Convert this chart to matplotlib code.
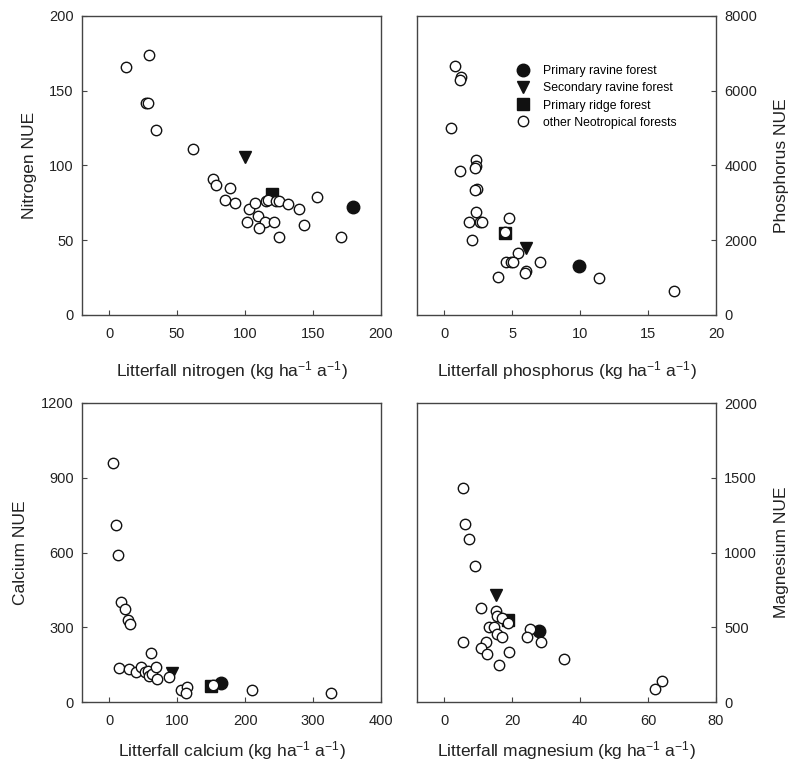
import matplotlib
matplotlib.use("Agg")
import matplotlib.pyplot as plt

plt.rcParams['font.family'] = ['Liberation Sans', 'DejaVu Sans']
plt.rcParams['mathtext.fontset'] = 'custom'
plt.rcParams['mathtext.rm'] = 'Liberation Sans'
plt.rcParams['mathtext.it'] = 'Liberation Sans:italic'

# site order: primary ravine, secondary ravine, primary ridge
site_labels = ['Primary ravine forest', 'Secondary ravine forest', 'Primary ridge forest']
site_markers = ['o', 'v', 's']
other_label = 'other Neotropical forests'

# nitrogen
n_other_x = [12.3, 29.4, 27.0, 28.5, 34.3, 62.0, 76.7, 78.4, 89.2, 85.5, 92.4, 102.9, 107.6, 115.2,
             116.9, 122.5, 125.0, 131.6, 139.7, 152.7, 109.6, 101.7, 114.7, 121.6, 110.3, 125.0,
             143.4, 170.8]
n_other_y = [166, 174, 142, 142, 124, 111, 91, 87, 85, 77, 75, 71, 75, 76,
             77, 76, 76, 74, 71, 79, 66, 62, 62, 62, 58, 52,
             60, 52]
n_site_x = [179.7, 99.8, 119.6]
n_site_y = [72, 106, 81]

# phosphorus
p_other_x = [0.81, 1.25, 1.15, 0.47, 1.13, 2.35, 2.35, 2.30, 2.40, 2.28, 2.35, 1.79, 2.65, 2.79,
             2.03, 4.75, 4.49, 5.42, 4.56, 4.93, 5.10, 7.06, 6.03, 5.98, 3.95, 11.37, 16.89]
p_other_y = [6670, 6360, 6280, 5000, 3850, 4160, 3980, 3940, 3380, 3340, 2760, 2500, 2500, 2500,
             2010, 2600, 2220, 1650, 1430, 1430, 1430, 1430, 1180, 1120, 1010, 1000, 630]
p_site_x = [9.95, 6.03, 4.49]
p_site_y = [1320, 1780, 2190]

# calcium
ca_other_x = [5.9, 10.3, 12.3, 17.2, 23.1, 27.9, 29.9, 61.8, 14.7, 29.4, 39.2, 46.1, 52.0,
              57.8, 59.3, 62.7, 68.6, 71.1, 87.3, 106.4, 114.2, 113.7, 153.4, 210.8, 326.0]
ca_other_y = [959, 712, 588, 400, 375, 328, 313, 195, 137, 131, 119, 140, 121,
              124, 105, 111, 141, 92, 101, 48, 61, 35, 68, 47, 35]
ca_site_x = [165.2, 93.1, 149.5]
ca_site_y = [77, 115, 65]

# magnesium
mg_other_x = [5.5, 6.1, 7.3, 9.2, 10.8, 15.2, 15.6, 17.1, 18.9, 13.1, 14.8, 15.5, 16.9,
              5.5, 12.4, 10.9, 12.6, 19.2, 16.1, 25.3, 24.3, 28.5, 35.2, 62.0, 64.2]
mg_other_y = [1429, 1193, 1091, 913, 627, 607, 573, 560, 527, 500, 500, 455, 435,
              404, 404, 364, 324, 335, 247, 491, 436, 402, 289, 87, 142]
mg_site_x = [28.0, 15.2, 18.7]
mg_site_y = [473, 718, 547]

panels = [
    dict(ox=n_other_x, oy=n_other_y, sx=n_site_x, sy=n_site_y,
         xlim=(-20, 200), xticks=[0, 50, 100, 150, 200], ylim=(0, 200), yticks=[0, 50, 100, 150, 200],
         xlabel='Litterfall nitrogen (kg ha$^{-1}$ a$^{-1}$)', ylabel='Nitrogen NUE', right=False,
         pos=[82, 16], xpad=13),
    dict(ox=p_other_x, oy=p_other_y, sx=p_site_x, sy=p_site_y,
         xlim=(-2, 20), xticks=[0, 5, 10, 15, 20], ylim=(0, 8000), yticks=[0, 2000, 4000, 6000, 8000],
         xlabel='Litterfall phosphorus (kg ha$^{-1}$ a$^{-1}$)', ylabel='Phosphorus NUE', right=True,
         pos=[417, 16], xpad=13),
    dict(ox=ca_other_x, oy=ca_other_y, sx=ca_site_x, sy=ca_site_y,
         xlim=(-40, 400), xticks=[0, 100, 200, 300, 400], ylim=(0, 1200), yticks=[0, 300, 600, 900, 1200],
         xlabel='Litterfall calcium (kg ha$^{-1}$ a$^{-1}$)', ylabel='Calcium NUE', right=False,
         pos=[82, 403], xpad=8),
    dict(ox=mg_other_x, oy=mg_other_y, sx=mg_site_x, sy=mg_site_y,
         xlim=(-8, 80), xticks=[0, 20, 40, 60, 80], ylim=(0, 2000), yticks=[0, 500, 1000, 1500, 2000],
         xlabel='Litterfall magnesium (kg ha$^{-1}$ a$^{-1}$)', ylabel='Magnesium NUE', right=True,
         pos=[417, 403], xpad=8),
]

W, H = 790, 762
fig = plt.figure(figsize=(W / 100, H / 100), dpi=100)
spine_col = '#444444'
pw, ph = 299, 299

for i, p in enumerate(panels):
    left, top = p['pos']
    ax = fig.add_axes([left / W, 1 - (top + ph) / H, pw / W, ph / H])
    for m, x, y, lab in zip(site_markers, p['sx'], p['sy'], site_labels):
        size = 9 if m == 'o' else 8
        ax.plot([x], [y], linestyle='none', marker=m, markersize=size, color='#111111',
                markeredgecolor='#111111', label=lab, zorder=3)
    ax.plot(p['ox'], p['oy'], linestyle='none', marker='o', markersize=7.5, markerfacecolor='white',
            markeredgecolor='#111111', markeredgewidth=1.0, label=other_label, zorder=4)
    ax.set_xlim(*p['xlim'])
    ax.set_ylim(*p['ylim'])
    ax.set_xticks(p['xticks'])
    ax.set_yticks(p['yticks'])
    for s in ax.spines.values():
        s.set_color(spine_col)
        s.set_linewidth(1.0)
    ax.tick_params(direction='in', length=3.5, width=0.8, color=spine_col, labelsize=10.5,
                   labelcolor='#222222')
    ax.tick_params(axis='x', pad=8.5)
    ax.tick_params(axis='y', pad=6)
    if p['right']:
        ax.yaxis.tick_right()
        ax.yaxis.set_label_position('right')
        ax.set_ylabel(p['ylabel'], fontsize=12.5, color='#222222', labelpad=12, rotation=90)
    else:
        ax.set_ylabel(p['ylabel'], fontsize=12.5, color='#222222', labelpad=9)
    ax.set_xlabel(p['xlabel'], fontsize=12.5, color='#222222', labelpad=p['xpad'])
    if i == 1:
        ax.legend(loc='upper left', bbox_to_anchor=(0.334, 0.835), frameon=False, fontsize=8.8,
                  handlelength=1.0, handletextpad=1.1, labelspacing=0.42, borderpad=0,
                  borderaxespad=0, numpoints=1)

fig.savefig('out.png', dpi=100)
